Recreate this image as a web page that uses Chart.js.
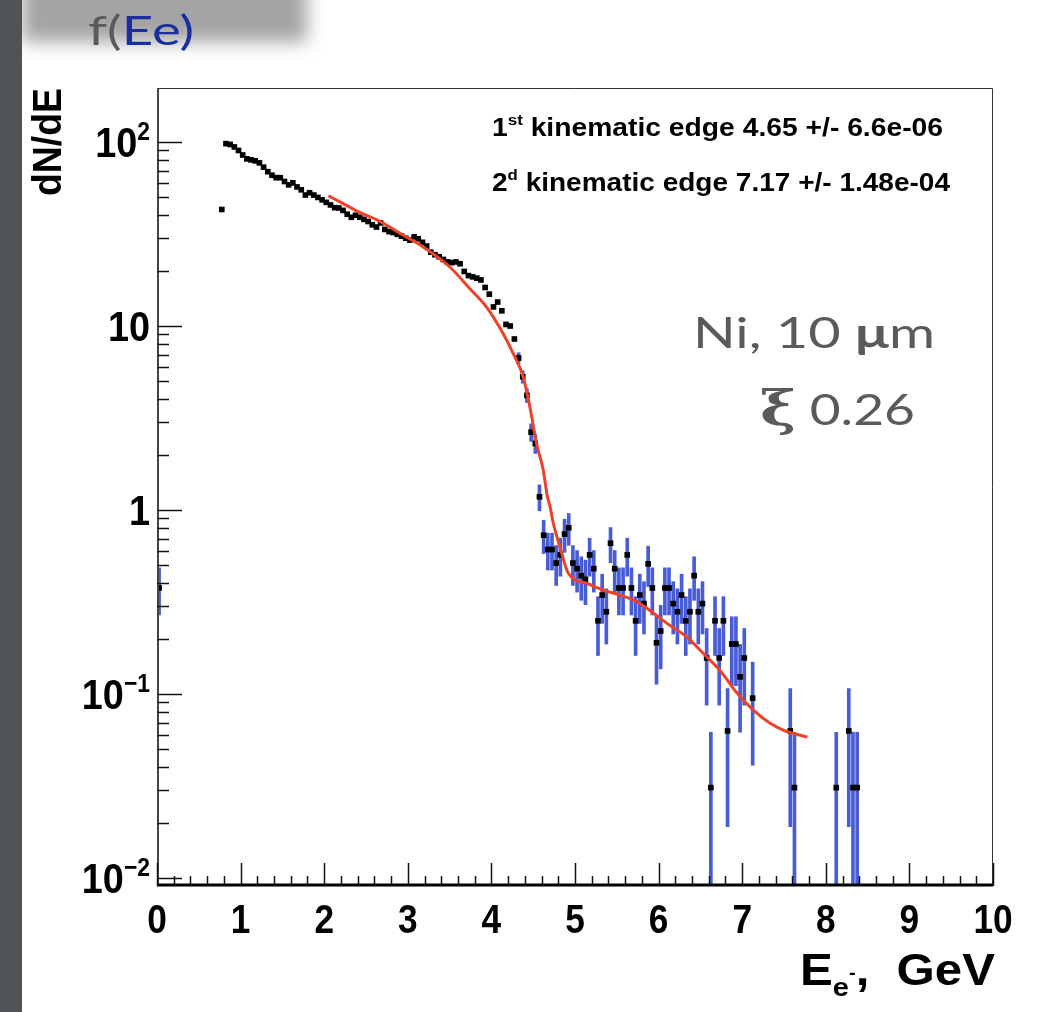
<!DOCTYPE html>
<html><head><meta charset="utf-8">
<script src="https://cdn.jsdelivr.net/npm/chart.js@4/dist/chart.umd.min.js"></script>
<style>
html,body{margin:0;padding:0;background:#fff;width:1045px;height:1012px;overflow:hidden;}
#banner{position:absolute;left:22px;top:-34px;width:285px;height:76px;background:#a4a4a4;filter:blur(9px);z-index:0;}
#strip{position:absolute;left:0;top:0;width:22px;height:1012px;background:#4f5257;z-index:1;}
#c{position:absolute;left:0;top:0;z-index:2;}
</style></head>
<body>
<div id="banner"></div>
<div id="strip"></div>
<canvas id="c" width="1045" height="1012"></canvas>
<script>
// ---- data ----
const energy = [0.025, 0.775,
 0.825,0.875,0.925,0.975,1.025,1.075,1.125,1.175,1.225,1.275,1.325,1.375,1.425,1.475,1.525,1.575,1.625,1.675,1.725,1.775,
 1.825,1.875,1.925,1.975,2.025,2.075,2.125,2.175,2.225,2.275,2.325,2.375,2.425,2.475,2.525,2.575,2.625,2.675,2.725,2.775,
 2.825,2.875,2.925,2.975,3.025,3.075,3.125,3.175,3.225,3.275,3.325,3.375,3.425,3.475,3.525,3.575,3.625,3.675,3.725,3.775,
 3.825,3.875,3.925,3.975,4.025,4.075,4.125,4.175,4.225,4.275,4.325,4.375,4.425,4.475,4.525,4.575,
 4.625,4.675,4.725,4.775,4.825,4.875,4.925,4.975,5.025,5.075,5.125,5.175,5.225,5.275,5.325,5.375,5.425,5.475,5.525,5.575,
 5.625,5.675,5.725,5.775,5.825,5.875,5.925,5.975,6.025,6.075,6.125,6.175,6.225,6.275,6.325,6.375,6.425,6.475,6.525,6.575,
 6.625,6.675,6.725,6.775,6.825,6.875,6.925,6.975,7.025,7.125,7.575,7.625,8.125,8.275,8.325,8.375];
const counts = [0.377, 43,
 98,97,94,90,85,81,80,79,77,73,69,66,64,64,61,58.5,60,57,55,51.5,
 53,51.5,50,48.5,47,45.5,44,43.8,42.5,40.5,39,40,39,38,37,35.5,34.5,36.3,33.5,32.6,
 32.2,31.5,30.8,30,29.3,30.5,29.8,28.5,27.2,25.2,24.4,23.8,23,22.3,22.1,22.3,21.8,19.8,18.8,18.5,
 18.2,17.8,16.2,14.9,12.7,13.5,12.1,10.2,10.0,8.5,6.7,5.3,4.2,2.65,2.3,1.18,
 0.73,0.61,0.61,0.515,0.57,0.74,0.80,0.515,0.48,0.44,0.42,0.57,0.48,0.25,0.345,0.28,0.66,0.48,0.377,0.377,
 0.57,0.377,0.25,0.345,0.31,0.51,0.377,0.19,0.22,0.377,0.377,0.31,0.28,0.345,0.25,0.28,0.44,0.28,0.31,0.157,
 0.031,0.25,0.157,0.25,0.063,0.187,0.187,0.124,0.157,0.095,0.063,0.031,0.031,0.063,0.031,0.031];
const errors = [0.108, 0,
 0,0,0,0,0,0,0,0,0,0,0,0,0,0,0,0,0,0,0,0,
 0,0,0,0,0,0,0,0,0,0,0,0,0,0,0,0,0,0,0,0,
 0,0,0,0,0,0,0,0,0,0,0,0,0,0,0,0,0,0,0,0,
 0,0,0,0,0,0,0,0,0,0,0.46,0.41,0.36,0.29,0.27,0.19,
 0.150,0.138,0.138,0.126,0.133,0.151,0.157,0.126,0.122,0.117,0.114,0.133,0.122,0.088,0.103,0.093,0.143,0.122,0.108,0.108,
 0.133,0.108,0.088,0.103,0.098,0.126,0.108,0.077,0.083,0.108,0.108,0.098,0.093,0.103,0.088,0.093,0.117,0.093,0.098,0.070,
 0.031,0.088,0.070,0.088,0.044,0.076,0.076,0.062,0.070,0.054,0.044,0.031,0.031,0.044,0.031,0.031];
const fitEnergy = [2.05,2.2,2.4,2.67,2.9,3.18,3.5,3.74,3.94,4.14,4.26,4.38,4.46,4.54,4.62,4.67,4.70,4.74,4.82,4.92,
 5.14,5.34,5.54,5.74,5.94,6.1,6.34,6.53,6.73,6.94,7.13,7.33,7.49,7.78];
const fitValues = [51,47,42,37,32,27,21,16,12.7,9.1,7.1,5.3,3.64,2.30,1.65,1.18,1.05,0.85,0.63,0.453,
 0.40,0.367,0.345,0.318,0.275,0.242,0.204,0.167,0.135,0.101,0.082,0.0695,0.0637,0.0583];
const xTickLabels = ['0','1','2','3','4','5','6','7','8','9','10'];
const yDecades = [-2,-1,0,1,2];
const xRange = [0, 10];
const yRange = [0.00905, 196.6];

// ---- build library structures ----
const points = energy.map((e,i)=>({x:e, y:counts[i]}));
const bars = [];
energy.forEach((e,i)=>{ if(errors[i]>0) bars.push({x:e, y:[Math.max(counts[i]-errors[i], yRange[0]), counts[i]+errors[i]]}); });
const fit = fitEnergy.map((e,i)=>({x:e, y:fitValues[i]}));

function rich(ctx, segs, x, y, targetW, align){
  let total=0;
  segs.forEach(s=>{ctx.font=s.f; s.w=ctx.measureText(s.t).width; total+=s.w;});
  const sc = targetW ? targetW/total : (segs.sx||1);
  ctx.save();
  const startX = align==='right' ? x-total*sc : (align==='center' ? x-total*sc/2 : x);
  ctx.translate(startX, y); ctx.scale(sc,1);
  let cx=0; ctx.textBaseline='alphabetic'; ctx.textAlign='left';
  segs.forEach(s=>{ctx.font=s.f; ctx.fillStyle=s.c||'#000'; ctx.fillText(s.t, cx, s.dy||0); cx+=s.w;});
  ctx.restore();
}

const B = '"Liberation Sans", Arial, sans-serif';
const rootAxes = {
  id:'rootAxes',
  afterDatasetsDraw(chart){
    const {ctx, chartArea:a, scales:{x,y}} = chart;
    ctx.save();
    ctx.strokeStyle='#333'; ctx.lineWidth=1;
    ctx.beginPath(); ctx.moveTo(a.left, a.top+0.5); ctx.lineTo(a.right-0.5, a.top+0.5); ctx.lineTo(a.right-0.5, a.bottom); ctx.stroke();
    ctx.strokeStyle='#444'; ctx.lineWidth=2;
    ctx.beginPath(); ctx.moveTo(a.left+1, a.top); ctx.lineTo(a.left+1, a.bottom); ctx.stroke();
    ctx.strokeStyle='#111'; ctx.lineWidth=1.5;
    for(let i=0;i<=50;i++){
      const px=Math.round(x.getPixelForValue(i*0.2))+0.5; const len = i%5===0?23:10;
      ctx.beginPath(); ctx.moveTo(px,a.bottom); ctx.lineTo(px,a.bottom-len); ctx.stroke();
    }
    for(let d=-3; d<=2; d++){
      for(let k=1;k<=9;k++){
        const v=k*Math.pow(10,d); if(v<yRange[0]||v>yRange[1]) continue;
        const py=Math.round(y.getPixelForValue(v))+0.5; const len=k===1?25:12;
        ctx.beginPath(); ctx.moveTo(a.left,py); ctx.lineTo(a.left+len,py); ctx.stroke();
      }
    }
    ctx.strokeStyle='#000'; ctx.lineWidth=3;
    ctx.beginPath(); ctx.moveTo(a.left, a.bottom-1); ctx.lineTo(a.right, a.bottom-1); ctx.stroke();
    ctx.fillStyle='#000';
    xTickLabels.forEach((t,i)=>{
      const px=x.getPixelForValue(xRange[0]+i);
      const segs=[{t:t,f:'bold 41px '+B}]; segs.sx=0.86;
      rich(ctx, segs, px, 933, null, 'center');
    });
    yDecades.forEach(d=>{
      const py=y.getPixelForValue(Math.pow(10,d));
      let segs;
      if(d===0) segs=[{t:'1',f:'bold 43px '+B}];
      else if(d===1) segs=[{t:'10',f:'bold 43px '+B}];
      else segs=[{t:'10',f:'bold 43px '+B},{t:(d<0?'\u2212':'')+Math.abs(d),f:'bold 26px '+B,dy:-17}];
      segs.sx=0.88;
      rich(ctx, segs, 150, py+15, null, 'right');
    });
    ctx.save(); ctx.translate(61, a.top); ctx.rotate(-Math.PI/2);
    rich(ctx,[{t:'dN/dE',f:'bold 40px '+B}], 0, 0, 108, 'right');
    ctx.restore();
    rich(ctx,[{t:'E',f:'bold 44px '+B},{t:'e',f:'bold 26px '+B,dy:11},{t:'-',f:'bold 18px '+B,dy:-6},{t:',  GeV',f:'bold 44px '+B}], 995, 985, 195, 'right');
    rich(ctx,[{t:'1',f:'bold 25px '+B},{t:'st',f:'bold 15px '+B,dy:-11},{t:' kinematic edge 4.65 +/- 6.6e-06',f:'bold 25px '+B}], 492, 136, 451, 'left');
    rich(ctx,[{t:'2',f:'bold 25px '+B},{t:'d',f:'bold 15px '+B,dy:-11},{t:' kinematic edge 7.17 +/- 1.48e-04',f:'bold 25px '+B}], 492, 191, 458, 'left');
    const G='#5a5a5a';
    rich(ctx,[{t:'Ni, 10 ',f:'42px Lato',c:G},{t:'\u03bc',f:'bold 42px Lato',c:G},{t:'m',f:'42px Lato',c:G}], 693, 348, 242, 'left');
    rich(ctx,[{t:'\u03be',f:'bold 48px "DejaVu Serif"',c:G},{t:' 0.26',f:'42px Lato',c:G}], 760, 425, 155, 'left');
    rich(ctx,[{t:'f(',f:'40px Lato',c:'#5a5a5a'},{t:'Ee)',f:'40px Lato',c:'#1a2ea0'}], 88, 45, 106, 'left');
    ctx.restore();
  }
};

new Chart(document.getElementById('c').getContext('2d'), {
  type:'scatter',
  data:{datasets:[
    {type:'line', data:fit, borderColor:'rgb(238,66,40)', borderWidth:3, pointRadius:0, cubicInterpolationMode:'monotone', fill:false, order:1},
    {type:'scatter', data:points, pointStyle:'rect', pointRadius:4, backgroundColor:'#000', borderWidth:0, order:2},
    {type:'bar', data:bars, backgroundColor:'rgb(72,92,214)', barThickness:3, grouped:false, borderWidth:0, order:3}
  ]},
  options:{
    responsive:false, animation:false, devicePixelRatio:1,
    layout:{padding:{left:157, right:52, top:88, bottom:126}},
    plugins:{legend:{display:false}, tooltip:{enabled:false}},
    scales:{
      x:{type:'linear', min:xRange[0], max:xRange[1], display:false, offset:false},
      y:{type:'logarithmic', min:yRange[0], max:yRange[1], display:false}
    }
  },
  plugins:[rootAxes]
});
</script>
</body></html>
